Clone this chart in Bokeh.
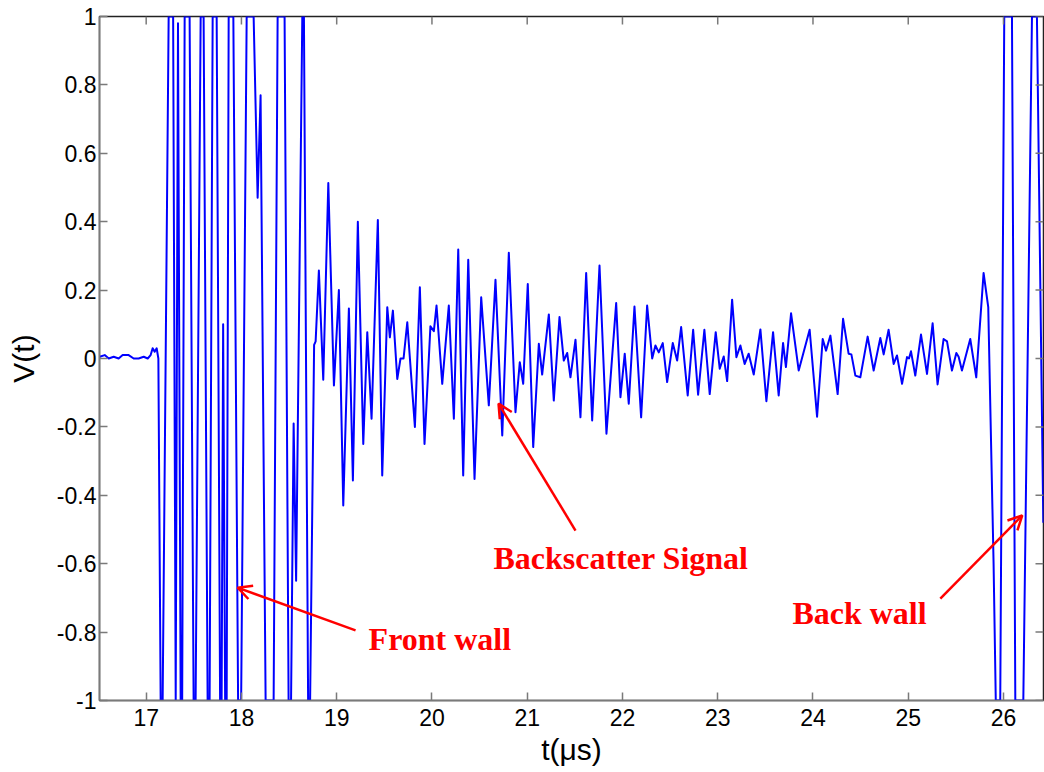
import math
from bokeh.plotting import figure
from bokeh.models import (Range1d, FixedTicker, CustomJSTickFormatter,
                          Arrow, OpenHead, Label, ColumnDataSource)
from bokeh.embed import file_html
from bokeh.resources import INLINE

# Ultrasonic A-scan: time in microseconds, normalised amplitude V(t)

# quiet baseline before the front-wall echo
t_pre = [16.512, 16.565, 16.607, 16.659, 16.711, 16.753, 16.816, 16.869, 16.921,
         16.974, 17.016, 17.047, 17.068, 17.089, 17.110, 17.128]
v_pre = [0.005, 0.01, 0.0, 0.005, 0.0, 0.01, 0.01, 0.0, 0.0,
         0.005, 0.0, 0.01, 0.03, 0.02, 0.03, 0.0]

# saturated front-wall echo (clipped at +/-1)
t_front = [17.152, 17.173, 17.236, 17.283, 17.310, 17.334, 17.362, 17.378, 17.404,
           17.456, 17.498, 17.519, 17.572, 17.603, 17.645, 17.666, 17.698, 17.740,
           17.776, 17.792, 17.808, 17.829, 17.845, 17.866, 17.915, 17.965, 17.997,
           18.055, 18.128, 18.170, 18.201, 18.254, 18.338, 18.380, 18.453, 18.495,
           18.521, 18.548, 18.574, 18.639, 18.656, 18.700, 18.721]
v_front = [-1, -1, 1, 1, -1, 0.98, -1, -1, 1,
           1, -1, -1, 1, 1, -1, -1, 1, 1,
           -1, -1, 0.1, -1, -1, 1, 1, -1, -1,
           1, 1, 0.47, 0.77, -1, -1, 1, 1, -1,
           -1, -0.19, -0.65, 1, 1, -1, -1]

# grain backscatter between the two wall echoes
t_back = [18.763, 18.779, 18.813, 18.859, 18.912, 18.971, 19.023, 19.069, 19.128,
          19.170, 19.222, 19.279, 19.321, 19.366, 19.432, 19.478, 19.531, 19.558,
          19.590, 19.636, 19.670, 19.702, 19.741, 19.821, 19.873, 19.922, 19.984,
          20.020, 20.048, 20.108, 20.177, 20.230, 20.276, 20.328, 20.381, 20.447,
          20.517, 20.597, 20.667, 20.738, 20.807, 20.877, 20.922, 20.958, 21.006,
          21.063, 21.122, 21.157, 21.227, 21.279, 21.339, 21.384, 21.420, 21.454,
          21.507, 21.559, 21.619, 21.682, 21.759, 21.832, 21.885, 21.934, 21.979,
          22.024, 22.066, 22.126, 22.196, 22.259, 22.312, 22.346, 22.381, 22.423,
          22.469, 22.528, 22.574, 22.616, 22.685, 22.742, 22.794, 22.860, 22.916,
          22.979, 23.021, 23.063, 23.099, 23.151, 23.196, 23.238, 23.283, 23.325,
          23.378, 23.448, 23.511, 23.581, 23.640, 23.686, 23.716, 23.770, 23.850,
          23.965, 24.043, 24.102, 24.137, 24.183, 24.259, 24.316, 24.374, 24.403,
          24.445, 24.497, 24.574, 24.637, 24.707, 24.742, 24.794, 24.847, 24.882,
          24.935, 24.987, 25.008, 25.029, 25.074, 25.134, 25.197, 25.256, 25.308,
          25.371, 25.407, 25.459, 25.505, 25.529, 25.564, 25.651, 25.714, 25.791,
          25.840]
v_back = [0.04, 0.05, 0.257, -0.062, 0.513, -0.079, 0.2, -0.43, 0.146,
          -0.357, 0.4, -0.25, 0.077, -0.176, 0.405, -0.342, 0.15, 0.062,
          0.14, -0.06, 0.0, 0.0, 0.106, -0.2, 0.208, -0.25, 0.094,
          0.08, 0.155, -0.074, 0.155, -0.176, 0.319, -0.342, 0.289, -0.352,
          0.179, -0.137, 0.23, -0.225, 0.309, -0.157, -0.011, -0.074, 0.218,
          -0.259, 0.043, -0.047, 0.129, -0.123, 0.121, -0.006, 0.016, -0.055,
          0.055, -0.172, 0.25, -0.181, 0.272, -0.22, -0.02, 0.162, -0.113,
          0.014, -0.132, 0.152, -0.172, 0.155, 0.0, 0.038, 0.018, 0.045,
          -0.069, 0.045, -0.006, 0.092, -0.108, 0.084, -0.106, 0.084, -0.104,
          0.077, -0.03, 0.006, -0.066, 0.172, 0.004, 0.038, -0.016, 0.014,
          -0.047, 0.085, -0.125, 0.077, -0.108, 0.045, -0.025, 0.132, -0.035,
          0.084, -0.17, 0.057, 0.023, 0.067, -0.104, 0.116, 0.014, 0.012,
          -0.05, -0.055, 0.064, -0.035, 0.06, 0.012, 0.084, -0.016, 0.009,
          -0.074, 0.004, 0.0, 0.021, -0.05, 0.07, -0.045, 0.103, -0.076,
          0.057, 0.05, -0.035, 0.016, 0.005, -0.035, 0.057, -0.055, 0.25,
          0.15]

# saturated back-wall echo
t_wall = [25.896, 25.919, 25.966, 26.008, 26.089, 26.124, 26.208, 26.299, 26.351, 26.418]
v_wall = [-0.6, -1, -1, 1, 1, -1, -1, 1, 1, -0.48]

x_ticks = [17, 18, 19, 20, 21, 22, 23, 24, 25, 26]
y_ticks = [-1, -0.8, -0.6, -0.4, -0.2, 0, 0.2, 0.4, 0.6, 0.8, 1]

T_MIN, T_MAX = 16.51, 26.42
V_MIN, V_MAX = -1, 1

t_all = t_pre + t_front + t_back + t_wall
v_all = v_pre + v_front + v_back + v_wall
src = ColumnDataSource(data=dict(t=t_all, v=v_all))

p = figure(width=1044, height=772, x_range=Range1d(T_MIN, T_MAX), y_range=Range1d(V_MIN, V_MAX),
           output_backend="svg", toolbar_location=None,
           min_border_left=99, min_border_right=1, min_border_top=16, min_border_bottom=72)
p.background_fill_color = "white"
p.border_fill_color = "white"
p.outline_line_color = "#222222"
p.outline_line_width = 1.5
p.xgrid.visible = False
p.ygrid.visible = False

p.line("t", "v", source=src, line_color="#0000FF", line_width=2.0, line_join="round")

# inward tick marks along the top and right edges of the box
tick_col = "#7a7a7a"
p.ray(x=x_ticks, y=[V_MAX] * len(x_ticks), length=8, length_units="screen",
      angle=-math.pi / 2, line_color=tick_col, line_width=1.5)
p.ray(x=[T_MAX] * len(y_ticks), y=y_ticks, length=8, length_units="screen",
      angle=math.pi, line_color=tick_col, line_width=1.5)

tick_font = "Liberation Sans"
xa = p.xaxis[0]
ya = p.yaxis[0]
xa.formatter = CustomJSTickFormatter(code="return tick.toFixed(0);")
ya.formatter = CustomJSTickFormatter(code="return String(Number(tick.toFixed(1)));")
xa.ticker = FixedTicker(ticks=x_ticks)
ya.ticker = FixedTicker(ticks=y_ticks)
for ax in (xa, ya):
    ax.major_tick_in = 8
    ax.major_tick_out = 0
    ax.minor_tick_line_color = None
    ax.major_tick_line_color = tick_col
    ax.major_tick_line_width = 1.5
    ax.axis_line_color = tick_col
    ax.axis_line_width = 1.5
    ax.major_label_text_font = tick_font
    ax.major_label_text_font_size = "23px"
    ax.major_label_text_color = "black"
    ax.axis_label_text_font = tick_font
    ax.axis_label_text_font_size = "30px"
    ax.axis_label_text_font_style = "normal"
    ax.axis_label_text_color = "black"
xa.axis_label = "t(μs)"
ya.axis_label = "V(t)"
xa.major_label_standoff = 8
ya.major_label_standoff = 3
xa.axis_label_standoff = 4
ya.axis_label_standoff = 14

red = "#FF0000"
ann_font = "Liberation Serif"

def note(x, y, text):
    p.add_layout(Label(x=x, y=y, text=text, text_font=ann_font, text_font_style="bold",
                       text_font_size="32px", text_color=red, text_baseline="alphabetic"))

def pointer(x0, y0, x1, y1):
    p.add_layout(Arrow(end=OpenHead(size=14, line_color=red, line_width=2.5),
                       x_start=x0, y_start=y0, x_end=x1, y_end=y1,
                       line_color=red, line_width=2.5))

note(19.335, -0.819, "Front wall")
note(20.646, -0.582, "Backscatter Signal")
note(23.784, -0.743, "Back wall")
pointer(19.198, -0.795, 17.960, -0.670)
pointer(21.507, -0.503, 20.699, -0.132)
pointer(25.337, -0.702, 26.197, -0.459)

open("out.html", "w").write(file_html(p, INLINE))
